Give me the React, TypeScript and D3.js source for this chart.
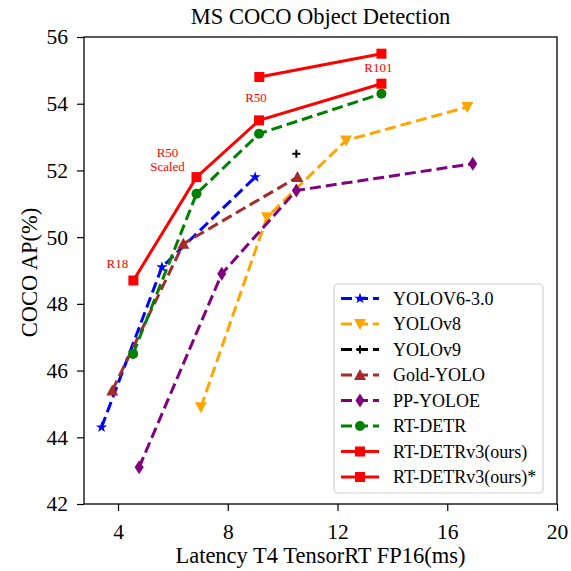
import * as d3 from "d3";
import { useEffect, useRef } from "react";

const yolov6X = [3.4, 5.6, 9.0];
const yolov6Y = [44.3, 49.1, 51.8];
const yolov8X = [7.02, 9.43, 12.31, 16.73];
const yolov8Y = [44.9, 50.6, 52.9, 53.9];
const yolov9X = [10.5];
const yolov9Y = [52.5];
const goldX = [3.79, 6.38, 10.54];
const goldY = [45.4, 49.8, 51.8];
const ppX = [4.77, 7.78, 10.5, 16.93];
const ppY = [43.1, 48.9, 51.4, 52.2];
const rtdetrX = [4.55, 6.86, 9.14, 13.6];
const rtdetrY = [46.5, 51.3, 53.1, 54.3];
const oursX = [4.56, 6.86, 9.14, 13.6];
const oursY = [48.7, 51.8, 53.5, 54.6];
const oursStarX = [9.15, 13.6];
const oursStarY = [54.8, 55.5];

const xTicks = [4, 8, 12, 16, 20];
const yTicks = [42, 44, 46, 48, 50, 52, 54, 56];

const pointLabels = [
  { x: 4.56, y: 48.7, lines: ["R18"] },
  { x: 6.86, y: 51.8, lines: ["R50", "Scaled"] },
  { x: 9.14, y: 53.5, lines: ["R50"] },
  { x: 13.6, y: 54.6, lines: ["R101"] },
];

const series = [
  { name: "YOLOV6-3.0", xs: yolov6X, ys: yolov6Y, color: "blue", marker: "star", dashed: true },
  { name: "YOLOv8", xs: yolov8X, ys: yolov8Y, color: "orange", marker: "tridown", dashed: true },
  { name: "YOLOv9", xs: yolov9X, ys: yolov9Y, color: "black", marker: "plus", dashed: true },
  { name: "Gold-YOLO", xs: goldX, ys: goldY, color: "brown", marker: "triup", dashed: true },
  { name: "PP-YOLOE", xs: ppX, ys: ppY, color: "purple", marker: "diamond", dashed: true },
  { name: "RT-DETR", xs: rtdetrX, ys: rtdetrY, color: "green", marker: "circle", dashed: true },
  { name: "RT-DETRv3(ours)", xs: oursX, ys: oursY, color: "red", marker: "square", dashed: false },
  { name: "RT-DETRv3(ours)*", xs: oursStarX, ys: oursStarY, color: "red", marker: "square", dashed: false },
];

const FONT = "'Liberation Serif', 'Times New Roman', serif";

function drawMarker(g: any, type: string, color: string, x: number, y: number) {
  if (type === "square") {
    g.append("rect").attr("x", x - 5).attr("y", y - 5).attr("width", 10).attr("height", 10).attr("fill", color);
  } else if (type === "circle") {
    g.append("circle").attr("cx", x).attr("cy", y).attr("r", 5).attr("fill", color);
  } else if (type === "tridown") {
    g.append("path").attr("d", `M${x - 6},${y - 5}L${x + 6},${y - 5}L${x},${y + 6}Z`).attr("fill", color);
  } else if (type === "triup") {
    g.append("path").attr("d", `M${x - 6},${y + 5}L${x + 6},${y + 5}L${x},${y - 6}Z`).attr("fill", color);
  } else if (type === "diamond") {
    g.append("path").attr("d", `M${x},${y - 7}L${x + 4.5},${y}L${x},${y + 7}L${x - 4.5},${y}Z`).attr("fill", color);
  } else if (type === "plus") {
    g.append("path").attr("d", `M${x - 4},${y}L${x + 4},${y}M${x},${y - 4}L${x},${y + 4}`)
      .attr("stroke", color).attr("stroke-width", 2);
  } else if (type === "star") {
    g.append("path").attr("d", d3.symbol(d3.symbolStar, 40)()).attr("transform", `translate(${x},${y})`).attr("fill", color);
  }
}

const Chart = () => {
  const svgRef = useRef(null);
  const width = 571;
  const height = 571;

  useEffect(() => {
    const svg = d3.select(svgRef.current);
    svg.selectAll("*").remove();

    const margin = { top: 37, right: 14, bottom: 67, left: 84 };
    const innerWidth = width - margin.left - margin.right;
    const innerHeight = height - margin.top - margin.bottom;

    const x = d3.scaleLinear().domain([2.76, 20]).range([margin.left, margin.left + innerWidth]);
    const y = d3.scaleLinear().domain([42, 56]).range([margin.top + innerHeight, margin.top]);

    // axes
    const xAxis = svg.append("g")
      .attr("transform", `translate(0,${margin.top + innerHeight})`)
      .call(d3.axisBottom(x).tickValues(xTicks).tickSize(7).tickPadding(13).tickFormat(d3.format("d")));
    const yAxis = svg.append("g")
      .attr("transform", `translate(${margin.left},0)`)
      .call(d3.axisLeft(y).tickValues(yTicks).tickSize(7).tickPadding(9).tickFormat(d3.format("d")));
    [xAxis, yAxis].forEach((a) => {
      a.select(".domain").remove();
      a.selectAll("line").attr("stroke", "black").attr("stroke-width", 1.2);
      a.selectAll("text").attr("font-family", FONT).attr("font-size", 21.5).attr("fill", "black");
    });

    // series
    series.forEach((s) => {
      const pts = s.xs.map((v, i) => [x(v), y(s.ys[i])] as [number, number]);
      const g = svg.append("g");
      if (pts.length > 1) {
        g.append("path")
          .attr("d", d3.line()(pts))
          .attr("fill", "none")
          .attr("stroke", s.color)
          .attr("stroke-width", 3)
          .attr("stroke-dasharray", s.dashed ? "11,5" : null);
      }
      pts.forEach(([px, py]) => drawMarker(g, s.marker, s.color, px, py));
    });

    // point labels
    pointLabels.forEach((l) => {
      const px = x(l.x);
      const py = y(l.y);
      const t = svg.append("text")
        .attr("font-family", FONT)
        .attr("font-size", 13)
        .attr("fill", "red")
        .attr("text-anchor", "middle");
      if (l.lines.length === 2) {
        t.append("tspan").attr("x", px - 29).attr("y", py - 20).text(l.lines[0]);
        t.append("tspan").attr("x", px - 29).attr("y", py - 6).text(l.lines[1]);
      } else if (l.lines[0] === "R18") {
        t.attr("x", px - 16).attr("y", py - 13).text(l.lines[0]);
      } else if (l.lines[0] === "R50") {
        t.attr("x", px - 3).attr("y", py - 18).text(l.lines[0]);
      } else {
        t.attr("x", px - 3).attr("y", py - 12).text(l.lines[0]);
      }
    });

    // frame
    svg.append("rect")
      .attr("x", margin.left).attr("y", margin.top)
      .attr("width", innerWidth).attr("height", innerHeight)
      .attr("fill", "none").attr("stroke", "black").attr("stroke-width", 1.3);

    // legend
    const lg = svg.append("g");
    lg.append("rect")
      .attr("x", 334).attr("y", 284).attr("width", 209).attr("height", 209)
      .attr("rx", 4).attr("fill", "white").attr("fill-opacity", 0.85)
      .attr("stroke", "#d0d0d0").attr("stroke-width", 1.2);
    series.forEach((s, i) => {
      const ly = 298.5 + i * 25.5;
      lg.append("line")
        .attr("x1", 341).attr("x2", 379).attr("y1", ly).attr("y2", ly)
        .attr("stroke", s.color).attr("stroke-width", 3)
        .attr("stroke-dasharray", s.dashed ? "11,5" : null);
      drawMarker(lg, s.marker, s.color, 360, ly);
      lg.append("text")
        .attr("x", 393).attr("y", ly + 6)
        .attr("font-family", FONT).attr("font-size", 18)
        .attr("fill", "black")
        .text(s.name);
    });

    // title and axis labels
    svg.append("text")
      .attr("x", margin.left + innerWidth / 2).attr("y", 24)
      .attr("text-anchor", "middle").attr("font-family", FONT).attr("font-size", 22.5)
      .text("MS COCO Object Detection");
    svg.append("text")
      .attr("x", margin.left + innerWidth / 2).attr("y", 563)
      .attr("text-anchor", "middle").attr("font-family", FONT).attr("font-size", 22.5)
      .text("Latency T4 TensorRT FP16(ms)");
    svg.append("text")
      .attr("transform", `translate(37,${margin.top + innerHeight / 2 + 2}) rotate(-90)`)
      .attr("text-anchor", "middle").attr("font-family", FONT).attr("font-size", 22.5)
      .text("COCO AP(%)");
  }, []);

  return (
    <svg
      ref={svgRef}
      width={width}
      height={height}
      style={{ position: "absolute", left: 0, top: 0, background: "white" }}
    />
  );
};

export default function App() {
  return <Chart />;
}
